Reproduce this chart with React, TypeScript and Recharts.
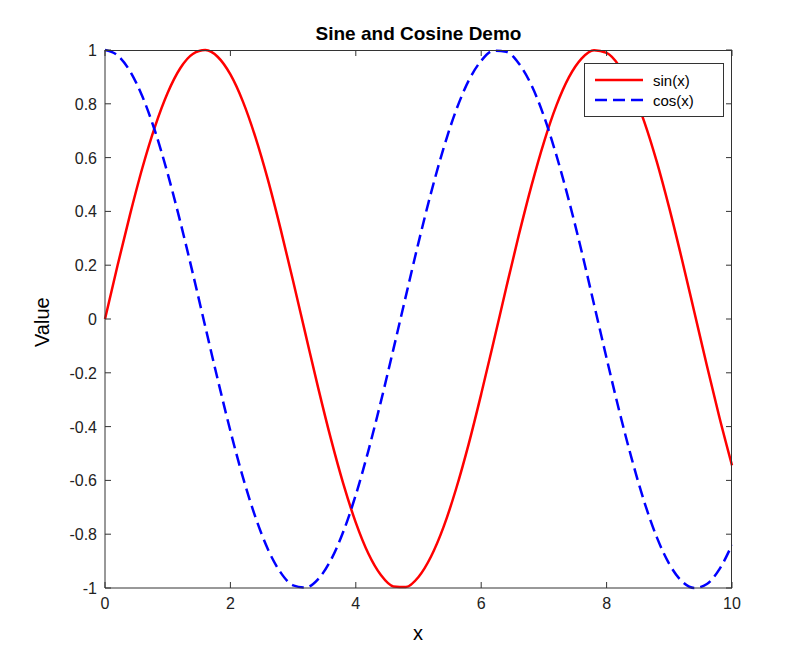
import React from 'react';
import { LineChart, Line, XAxis, YAxis } from 'recharts';

const xs = [0,0.2,0.4,0.6,0.8,1,1.2,1.4,1.6,1.8,2,2.2,2.4,2.6,2.8,3,3.2,3.4,3.6,3.8,4,4.2,4.4,4.6,4.8,5,5.2,5.4,5.6,5.8,6,6.2,6.4,6.6,6.8,7,7.2,7.4,7.6,7.8,8,8.2,8.4,8.6,8.8,9,9.2,9.4,9.6,9.8,10];
const sinVals = [0,0.199,0.389,0.565,0.717,0.841,0.932,0.985,0.9996,0.974,0.909,0.808,0.675,0.516,0.335,0.141,-0.058,-0.256,-0.443,-0.612,-0.757,-0.872,-0.952,-0.994,-0.996,-0.959,-0.883,-0.773,-0.631,-0.465,-0.279,-0.083,0.117,0.312,0.494,0.657,0.794,0.899,0.968,0.999,0.989,0.941,0.855,0.734,0.585,0.412,0.223,0.025,-0.174,-0.366,-0.544];
const cosVals = [1,0.98,0.921,0.825,0.697,0.54,0.362,0.17,-0.029,-0.227,-0.416,-0.589,-0.737,-0.857,-0.942,-0.99,-0.998,-0.967,-0.897,-0.791,-0.654,-0.49,-0.307,-0.112,0.087,0.284,0.469,0.635,0.776,0.886,0.96,0.997,0.993,0.95,0.87,0.754,0.608,0.439,0.253,0.054,-0.146,-0.34,-0.519,-0.679,-0.811,-0.911,-0.975,-1,-0.985,-0.93,-0.839];
const xTicks = [0,2,4,6,8,10];
const yTicks = [-1,-0.8,-0.6,-0.4,-0.2,0,0.2,0.4,0.6,0.8,1];

const data = xs.map((x, i) => ({ x, s: sinVals[i], c: cosVals[i] }));
const font = 'Liberation Sans, Arial, sans-serif';
const PW = 627, PH = 538;

const XTick = (p: any) => (
  <g>
    <line x1={p.x} y1={p.y} x2={p.x} y2={p.y - 6} stroke="#333" />
    <line x1={p.x} y1={p.y - PH} x2={p.x} y2={p.y - PH + 6} stroke="#333" />
    <text x={p.x} y={p.y + 21} textAnchor="middle" fontSize={16} fill="#222" fontFamily={font}>{p.payload.value}</text>
  </g>
);
const YTick = (p: any) => (
  <g>
    <line x1={p.x} y1={p.y} x2={p.x + 6} y2={p.y} stroke="#333" />
    <line x1={p.x + PW} y1={p.y} x2={p.x + PW - 6} y2={p.y} stroke="#333" />
    <text x={p.x - 8} y={p.y + 6} textAnchor="end" fontSize={16} fill="#222" fontFamily={font}>{p.payload.value}</text>
  </g>
);

export default function App() {
  return (
    <div style={{ position: 'absolute', left: 0, top: 0, width: 809, height: 662, background: '#fff' }}>
      <div style={{ position: 'absolute', top: 23, width: 809, textAlign: 'center', left: 14, fontFamily: font, fontWeight: 'bold', fontSize: 19 }}>Sine and Cosine Demo</div>
      <div style={{ position: 'absolute', left: 413, top: 622, fontFamily: font, fontSize: 20 }}>x</div>
      <div style={{ position: 'absolute', left: 31, top: 347, transform: 'rotate(-90deg)', transformOrigin: 'left top', fontFamily: font, fontSize: 20, width: 60 }}>Value</div>
      <LineChart width={809} height={662} data={data} margin={{ top: 50, right: 77, bottom: 24, left: 45 }}>
        <XAxis dataKey="x" type="number" domain={[0, 10]} ticks={xTicks} height={50} tick={<XTick />} tickSize={0} tickMargin={0} tickLine={false} stroke="#333" />
        <YAxis type="number" domain={[-1, 1]} ticks={yTicks} width={60} tick={<YTick />} tickSize={0} tickMargin={0} tickLine={false} stroke="#333" interval={0} />
        <Line dataKey="s" name="sin(x)" stroke="red" strokeWidth={2.5} dot={false} type="monotone" isAnimationActive={false} />
        <Line dataKey="c" name="cos(x)" stroke="blue" strokeWidth={2.5} strokeDasharray="12 6" dot={false} type="monotone" isAnimationActive={false} />
      </LineChart>
      <div style={{ position: 'absolute', left: 105, top: 50, width: PW, height: PH, border: '1px solid #333', borderLeft: 'none', borderBottom: 'none', boxSizing: 'border-box', pointerEvents: 'none' }} />
      <div style={{ position: 'absolute', left: 584, top: 63, border: '1px solid #333', background: '#fff', width: 140, height: 54, fontFamily: font, fontSize: 15, boxSizing: 'border-box', padding: '6px 8px' }}>
        {[['sin(x)', 'red', undefined], ['cos(x)', 'blue', '12 6']].map(([n, col, d]) => (
          <div key={n as string} style={{ display: 'flex', alignItems: 'center', height: 20 }}>
            <svg width={52} height={10}><line x1={2} y1={5} x2={50} y2={5} stroke={col as string} strokeWidth={2.5} strokeDasharray={d as any} /></svg>
            <span style={{ marginLeft: 8 }}>{n}</span>
          </div>
        ))}
      </div>
    </div>
  );
}
